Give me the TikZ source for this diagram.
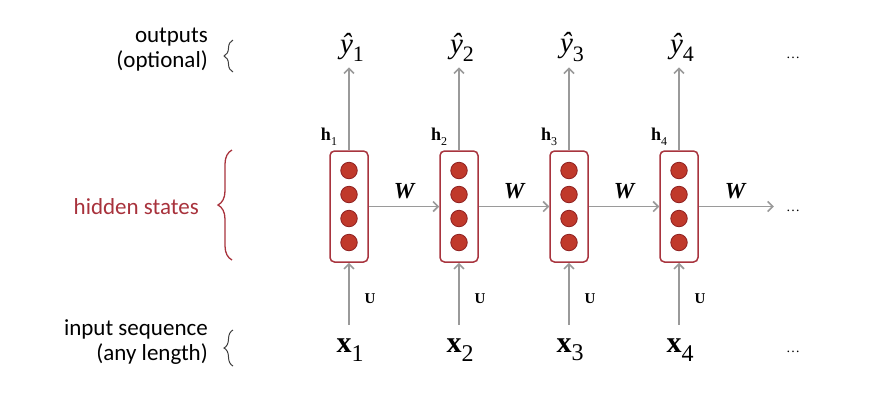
\documentclass[tikz,border=0pt]{standalone}
\usepackage{fontspec}
\setmainfont{Liberation Serif}
\newfontfamily\calibri{Carlito}
\usetikzlibrary{arrows.meta,decorations.pathreplacing}
\definecolor{arrowgray}{HTML}{9A9A9A}
\definecolor{cellred}{HTML}{A8343E}
\definecolor{dotfill}{HTML}{C0392B}
\definecolor{dotedge}{HTML}{8E1F1F}
\definecolor{labelred}{HTML}{A8323C}
\definecolor{bracegray}{HTML}{404040}
\newcommand{\lowsub}[2]{\raisebox{-0.28em}{\fontsize{#1}{#1}\selectfont\mdseries\upshape #2}}
\begin{document}
\begin{tikzpicture}[x=1pt,y=-1pt,
  conn/.style={draw=arrowgray, line width=1.6pt, -{Straight Barb[length=5pt,width=10pt]}},
  cellbox/.style={draw=cellred, line width=1.5pt, rounded corners=4.5pt, minimum width=38pt, minimum height=111pt, inner sep=0pt, fill=white},
  dot/.style={circle, fill=dotfill, draw=dotedge, line width=0.8pt, minimum size=16.5pt, inner sep=0pt},
  outlbl/.style={inner sep=0pt, font=\fontsize{29}{29}\selectfont},
  inlbl/.style={inner sep=0pt, font=\fontsize{30}{30}\selectfont\bfseries},
  hlbl/.style={inner sep=0pt, font=\fontsize{18}{18}\selectfont\bfseries},
  wlbl/.style={inner sep=0pt, font=\fontsize{23}{23}\selectfont\bfseries\itshape},
  ulbl/.style={inner sep=0pt, font=\fontsize{15}{15}\selectfont\bfseries},
  ellip/.style={inner sep=0pt, font=\fontsize{14}{14}\selectfont},
  sidelbl/.style={inner sep=0pt, align=right, anchor=east, font=\calibri\fontsize{23}{25}\selectfont},
  bracegr/.style={draw=bracegray, line width=1pt, decorate, decoration={brace, amplitude=9pt}},
  bracered/.style={draw=labelred, line width=1.3pt, decorate, decoration={brace, amplitude=14pt}}
]
\useasboundingbox (0,0) rectangle (870,408);

% cells
\foreach \i/\cx in {1/349,2/459,3/569,4/679}{
  \node[cellbox] (c\i) at (\cx,206.5) {};
  \node[dot] (d\i a) at (\cx,170.5) {};
  \node[dot] (d\i b) at (\cx,194.5) {};
  \node[dot] (d\i c) at (\cx,218.5) {};
  \node[dot] (d\i d) at (\cx,242.5) {};
  \node[outlbl] (y\i) at (\cx+3,47) {\textit{ŷ}\lowsub{22}{\i}};
  \node[inlbl] (x\i) at (\cx+1,350) {x\lowsub{24}{\i}};
  \node[hlbl] (h\i) at (\cx-20,137) {h\lowsub{12}{\i}};
  \node[ulbl] (u\i) at (\cx+21,299) {U};
  \draw[conn, shorten >=6pt] (c\i.north) -- (c\i.north |- y\i.south);
  \draw[conn, shorten <=14pt] (c\i.south |- x\i.north) -- (c\i.south);
}

% ellipses
\node[ellip] (e1) at (793,58) {…};
\node[ellip] (e2) at (793,211) {…};
\node[ellip] (e3) at (793,352) {…};

% recurrent connections
\draw[conn] (c1.east) -- (c2.west);
\draw[conn] (c2.east) -- (c3.west);
\draw[conn] (c3.east) -- (c4.west);
\draw[conn, shorten >=12pt] (c4.east) -- (c4.east -| e2.west);
\node[wlbl] (w1) at (404,191) {W};
\node[wlbl] (w2) at (514,191) {W};
\node[wlbl] (w3) at (624,191) {W};
\node[wlbl] (w4) at (735,191) {W};

% side labels
\node[sidelbl] (tout) at (208,50) {outputs\\(optional)};
\node[sidelbl, text=labelred] (thid) at (199,207) {hidden states};
\node[sidelbl] (tin) at (208,342) {input sequence\\(any length)};

\draw[bracegr] (233,72) -- (233,40);
\draw[bracered] (232,260) -- (232,150);
\draw[bracegr] (233,366) -- (233,330);
\end{tikzpicture}
\end{document}
